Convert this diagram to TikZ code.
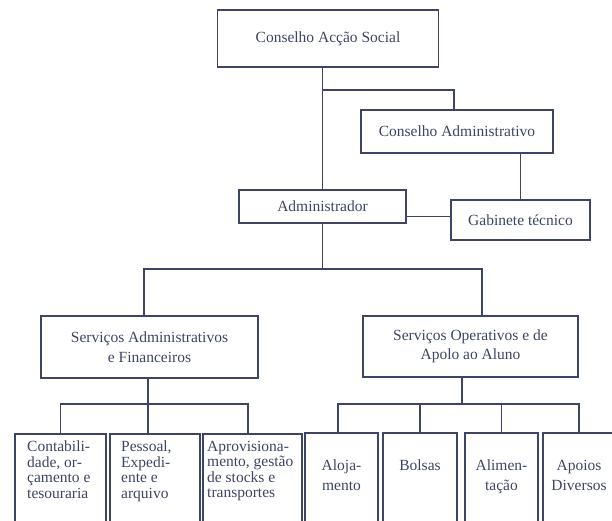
\documentclass[tikz,border=0pt]{standalone}
\usepackage{fontspec}
\setmainfont{Liberation Serif}
\definecolor{ink}{HTML}{3D4466}
\begin{document}
\begin{tikzpicture}[x=1pt,y=-1pt,
    box/.style={rectangle,draw=ink,line width=1.8pt,inner sep=0pt,text=ink,align=center,font=\fontsize{15.5}{19.5}\selectfont},
    unit/.style={rectangle,draw=ink,line width=1.8pt,inner sep=0pt,anchor=north,minimum height=130pt},
    unit text/.style={text=ink,inner sep=0pt,anchor=north west,align=left,font=\fontsize{15.5}{15.5}\selectfont},
    wide text/.style={text=ink,inner sep=0pt,anchor=north,align=center,font=\fontsize{15.5}{20}\selectfont},
    link/.style={draw=ink,line width=1.8pt}]
                \useasboundingbox (0,0) rectangle (612,521);
                \clip (0,0) rectangle (612,521);

                \node[box,minimum width=221,minimum height=57] at (328, 38.5) (cas) {Conselho Acção Social};
                \node[box,minimum width=192,minimum height=43] at (457, 131.5) (cadm) {Conselho Administrativo};
                \node[box,minimum width=167,minimum height=33] at (322.5, 206.5) (adm) {Administrador};
                \node[box,minimum width=139,minimum height=40] at (520.5, 220) (gab) {Gabinete\ técnico};
                \node[box,minimum width=217,minimum height=62] at (149.5, 347) (saf) {Serviços Administrativos\\e Financeiros};
                \node[box,minimum width=215,minimum height=61] at (470.5, 346.5) (soa) {Serviços Operativos e de\\Apolo ao Aluno};

                \node[unit,minimum width=91] at (60.5, 433) (conta) {};
                \node[unit,minimum width=90] at (155, 433) (pess) {};
                \node[unit,minimum width=99] at (252.5, 433) (aprov) {};
                \node[unit,minimum width=73] at (341.5, 432) (aloj) {};
                \node[unit,minimum width=74] at (420, 432) (bols) {};
                \node[unit,minimum width=73] at (501.5, 432) (alim) {};
                \node[unit,minimum width=72] at (579, 432) (apoio) {};

                \node[unit text] at (27, 441) (conta t) {Contabili-\\dade, or-\\çamento e\\tesouraria};
                \node[unit text] at (121, 441) (pess t) {Pessoal,\\Expedi-\\ente e\\arquivo};
                \node[unit text] at (207, 441) (aprov t) {Aprovisiona-\\mento, gestão\\de stocks e\\transportes};
                \node[wide text] at (341.5, 460) (aloj t) {Aloja-\\mento};
                \node[wide text] at (420, 460) (bols t) {Bolsas};
                \node[wide text] at (501.5, 460) (alim t) {Alimen-\\tação};
                \node[wide text] at (579, 460) (apoio t) {Apoios\\Diversos};

                \coordinate (top fork) at (adm.north |- 0,90);
                \coordinate (adm gab) at ([yshift=-10pt]adm.east);
                \coordinate (mid fork) at (adm.south |- 0,269);
                \coordinate (saf out) at ([xshift=-1.5pt]saf.south);
                \coordinate (saf fork) at (saf out |- 0,404);
                \coordinate (soa out) at ([xshift=-8.5pt]soa.south);
                \coordinate (soa fork) at (soa out |- 0,404);

                \draw[link] (adm.north |- cas.south) -- (adm.north);
                \draw[link] (top fork) -| ([xshift=-3pt]cadm.north);
                \draw[link] (gab.north |- cadm.south) -- (gab.north);
                \draw[link] (adm gab) -- (gab.west |- adm gab);
                \draw[link] (adm.south) -- (mid fork);
                \draw[link] ([xshift=-5.5pt]saf.north) |- (mid fork) -| ([xshift=11.5pt]soa.north);
                \draw[link] (saf out) -- ([xshift=-7pt]pess.north);
                \draw[link] (conta.north) |- (saf fork) -| ([xshift=-4.5pt]aprov.north);
                \draw[link] (soa out) -- (soa fork);
                \draw[link] ([xshift=-3.5pt]aloj.north) |- (soa fork) -| (apoio.north);
                \draw[link] (bols.north) -- (bols.north |- soa fork);
                \draw[link] (alim.north) -- (alim.north |- soa fork);
            \end{tikzpicture}
\end{document}
